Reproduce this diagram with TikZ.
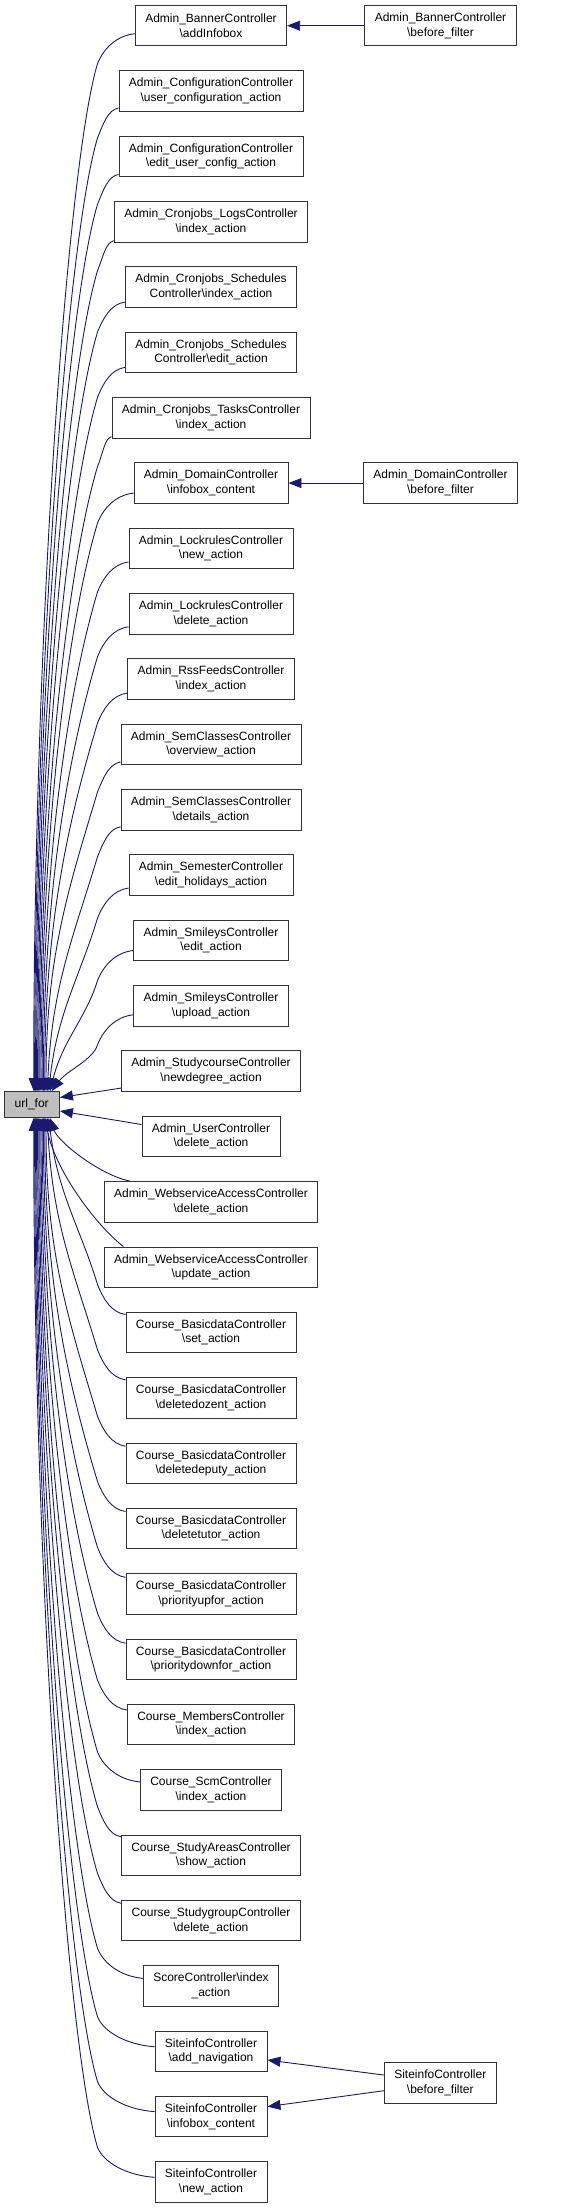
\documentclass[tikz,border=0pt]{standalone}
\usepackage{fontspec}
\setmainfont{Liberation Sans}
\usetikzlibrary{arrows.meta,calc}
\definecolor{edgecol}{HTML}{191970}
\definecolor{boxline}{HTML}{333333}
\definecolor{urlfill}{HTML}{BFBFBF}
\newcommand{\bksl}{\textbackslash}
\begin{document}
\begin{tikzpicture}[x=1pt,y=-1pt,
  box/.style={draw=boxline, line width=0.9pt, fill=white, align=center,
    font=\fontsize{12}{14.6}\selectfont, inner xsep=10pt, inner ysep=2pt, minimum height=40.5pt},
  calledge/.style={draw=edgecol, line width=0.9pt, >={Triangle[length=13pt,width=10pt]}, <-}]
\useasboundingbox (0,0) rectangle (567,2208);

\node[box, fill=urlfill, minimum width=55.5pt, minimum height=26pt, inner xsep=2pt] (url) at (31.7,1104.5) {url\_for};

\node[box] (n0) at (211,25.7) {Admin\_BannerController\\\bksl addInfobox};
\node[box] (n1) at (211,91.0) {Admin\_ConfigurationController\\\bksl user\_configuration\_action};
\node[box] (n2) at (211,156.4) {Admin\_ConfigurationController\\\bksl edit\_user\_config\_action};
\node[box] (n3) at (211,221.7) {Admin\_Cronjobs\_LogsController\\\bksl index\_action};
\node[box] (n4) at (211,287.1) {Admin\_Cronjobs\_Schedules\\Controller\bksl index\_action};
\node[box] (n5) at (211,352.4) {Admin\_Cronjobs\_Schedules\\Controller\bksl edit\_action};
\node[box] (n6) at (211,417.7) {Admin\_Cronjobs\_TasksController\\\bksl index\_action};
\node[box] (n7) at (211,483.1) {Admin\_DomainController\\\bksl infobox\_content};
\node[box] (n8) at (211,548.4) {Admin\_LockrulesController\\\bksl new\_action};
\node[box] (n9) at (211,613.8) {Admin\_LockrulesController\\\bksl delete\_action};
\node[box] (n10) at (211,679.1) {Admin\_RssFeedsController\\\bksl index\_action};
\node[box] (n11) at (211,744.4) {Admin\_SemClassesController\\\bksl overview\_action};
\node[box] (n12) at (211,809.8) {Admin\_SemClassesController\\\bksl details\_action};
\node[box] (n13) at (211,875.1) {Admin\_SemesterController\\\bksl edit\_holidays\_action};
\node[box] (n14) at (211,940.5) {Admin\_SmileysController\\\bksl edit\_action};
\node[box] (n15) at (211,1005.8) {Admin\_SmileysController\\\bksl upload\_action};
\node[box] (n16) at (211,1071.1) {Admin\_StudycourseController\\\bksl newdegree\_action};
\node[box] (n17) at (211,1136.5) {Admin\_UserController\\\bksl delete\_action};
\node[box] (n18) at (211,1201.8) {Admin\_WebserviceAccessController\\\bksl delete\_action};
\node[box] (n19) at (211,1267.2) {Admin\_WebserviceAccessController\\\bksl update\_action};
\node[box] (n20) at (211,1332.5) {Course\_BasicdataController\\\bksl set\_action};
\node[box] (n21) at (211,1397.8) {Course\_BasicdataController\\\bksl deletedozent\_action};
\node[box] (n22) at (211,1463.2) {Course\_BasicdataController\\\bksl deletedeputy\_action};
\node[box] (n23) at (211,1528.5) {Course\_BasicdataController\\\bksl deletetutor\_action};
\node[box] (n24) at (211,1593.9) {Course\_BasicdataController\\\bksl priorityupfor\_action};
\node[box] (n25) at (211,1659.2) {Course\_BasicdataController\\\bksl prioritydownfor\_action};
\node[box] (n26) at (211,1724.5) {Course\_MembersController\\\bksl index\_action};
\node[box] (n27) at (211,1789.9) {Course\_ScmController\\\bksl index\_action};
\node[box] (n28) at (211,1855.2) {Course\_StudyAreasController\\\bksl show\_action};
\node[box] (n29) at (211,1920.6) {Course\_StudygroupController\\\bksl delete\_action};
\node[box] (n30) at (211,1985.9) {ScoreController\bksl index\\\_action};
\node[box] (n31) at (211,2051.2) {SiteinfoController\\\bksl add\_navigation};
\node[box] (n32) at (211,2116.6) {SiteinfoController\\\bksl infobox\_content};
\node[box] (n33) at (211,2182.0) {SiteinfoController\\\bksl new\_action};

\node[box] (r0) at (440.5,25.7) {Admin\_BannerController\\\bksl before\_filter};
\node[box] (r7) at (440.5,483.1) {Admin\_DomainController\\\bksl before\_filter};
\node[box] (r31) at (440.3,2083) {SiteinfoController\\\bksl before\_filter};

% right-hand callers
\draw[calledge] (n0.east) -- (r0.west);
\draw[calledge] (n7.east) -- (r7.west);
\draw[calledge] ($(n31.east)+(0,8.8)$) -- ($(r31.west)+(0,-8)$);
\draw[calledge] ($(n32.east)+(0,-10)$) -- ($(r31.west)+(0,7.7)$);

% upper callers of url_for
\foreach \i/\d in {0/8,1/17,2/18,3/19,4/15,5/15,6/19,7/10,8/13.6,9/13,10/14,11/17.6,12/17,13/13,14/10,15/9}{
  \pgfmathsetmacro\eoff{2+0.9*\i+0.02*\i*\i}
  \pgfmathsetmacro\spn{1091-(25.7+65.34*\i+\d+30)}
  \pgfmathsetmacro\ctlA{min(100,0.33*\spn)}
  \pgfmathsetmacro\gfac{0.4*(1-min(1,\spn/300))}
  \draw[calledge] let \p1=($(n\i.west)+(0,\d)$), \p2=($(url.north)+(\eoff,0)$), \p3=($(url.east)+(37.6,0)$) in
    (\p2) .. controls ({\x2+\gfac*(\x3-\x2)},{\y2+0.45*\spn*1pt}) and ({\x3-0.3*\ctlA*1pt},{\y1-30pt-\ctlA*1pt}) .. (\x3,{\y1-30pt})
          .. controls ({\x3+6pt},{\y1-15pt}) and ({\x1-0.5*(\x1-\x3)},{\y1-2pt}) .. (\p1);
}
% lower callers of url_for
\foreach \i/\d in {20/18,21/18,22/17,23/17,24/16.6,25/16,26/14.5,27/8,28/18.5,29/17.3,30/7.6,31/4.5,32/5,33/4.7}{
  \pgfmathsetmacro\eoff{2+0.9*(33-\i)+0.02*(33-\i)*(33-\i)}
  \pgfmathsetmacro\spn{(25.7+65.34*\i-\d-30)-1117.5}
  \pgfmathsetmacro\ctlA{min(100,0.33*\spn)}
  \pgfmathsetmacro\gfac{0.4*(1-min(1,\spn/300))}
  \draw[calledge] let \p1=($(n\i.west)+(0,-\d)$), \p2=($(url.south)+(\eoff,0)$), \p3=($(url.east)+(37.6,0)$) in
    (\p2) .. controls ({\x2+\gfac*(\x3-\x2)},{\y2-0.45*\spn*1pt}) and ({\x3-0.3*\ctlA*1pt},{\y1+30pt+\ctlA*1pt}) .. (\x3,{\y1+30pt})
          .. controls ({\x3+6pt},{\y1+15pt}) and ({\x1-0.5*(\x1-\x3)},{\y1+2pt}) .. (\p1);
}
% near callers
\draw[calledge] ($(url.east)+(0,-7)$) -- ($(n16.west)+(0,17)$);
\draw[calledge] ($(url.east)+(0,6.5)$) -- ($(n17.west)+(0,-12)$);
\draw[calledge] ($(url.south)+(18.3,0)$) .. controls ($(url.south)+(26.3,24)$) and ($(n18.north)+(-111,-6)$) .. ($(n18.north)+(-81,0)$);
\draw[calledge] ($(url.south)+(13.3,0)$) .. controls ($(url.south)+(23.3,52)$) and ($(n19.north)+(-115.7,-22)$) .. ($(n19.north)+(-87.7,0)$);
\end{tikzpicture}
\end{document}
